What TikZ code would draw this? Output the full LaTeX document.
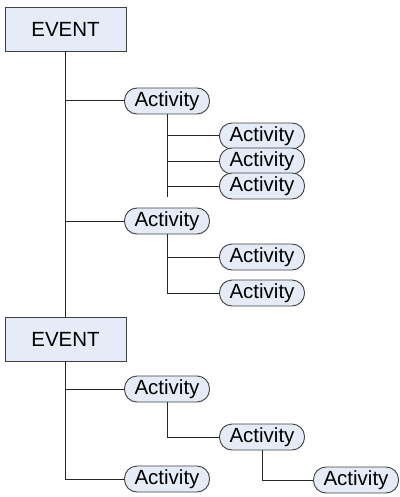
\documentclass[tikz,border=0pt]{standalone}
\usepackage{fontspec}
\setmainfont{Liberation Sans}
\definecolor{boxfill}{HTML}{E6ECF7}
\definecolor{boxdraw}{HTML}{404040}
\begin{document}
\begin{tikzpicture}[x=1pt,y=-1pt,
  eventbox/.style={draw=boxdraw,fill=boxfill,line width=0.9pt,minimum width=121pt,minimum height=44pt,inner sep=0pt,font=\fontsize{20.5}{23}\selectfont},
  actbox/.style={draw=boxdraw,fill=boxfill,line width=0.9pt,rounded corners=12.5pt,minimum width=85pt,minimum height=26pt,inner sep=0pt,font=\fontsize{20.5}{23}\selectfont},
  conn/.style={draw=black!85,line width=1pt}]
\useasboundingbox (0,0) rectangle (399,497);
\node[eventbox] (ev1) at (65.5,29) {EVENT};
\node[eventbox] (ev2) at (65.5,339) {EVENT};
\node[actbox] (a1) at (167,101) {Activity};
\node[actbox] (a11) at (262,136) {Activity};
\node[actbox] (a12) at (262,161) {Activity};
\node[actbox] (a13) at (262,186) {Activity};
\node[actbox] (a2) at (167,221) {Activity};
\node[actbox] (a21) at (262,257) {Activity};
\node[actbox] (a22) at (262,293) {Activity};
\node[actbox] (a3) at (167,389) {Activity};
\node[actbox] (a31) at (262,437) {Activity};
\node[actbox] (a311) at (356,480) {Activity};
\node[actbox] (a4) at (167,479) {Activity};
\coordinate (e1) at (167,197);
% spine 1
\draw[conn] (ev1.south) -- (ev2.north);
\draw[conn] (ev1.south |- a1) -- (a1.west);
\draw[conn] (ev1.south |- a2) -- (a2.west);
% a1 children
\draw[conn] (a1.south) -- (e1);
\draw[conn] (a1.south |- a11) -- (a11.west);
\draw[conn] (a1.south |- a12) -- (a12.west);
\draw[conn] (a1.south |- a13) -- (a13.west);
% a2 children
\draw[conn] (a2.south) -- (a2.south |- a22) -- (a22.west);
\draw[conn] (a2.south |- a21) -- (a21.west);
% spine 2
\draw[conn] (ev2.south) -- (ev2.south |- a4) -- (a4.west);
\draw[conn] (ev2.south |- a3) -- (a3.west);
\draw[conn] (a3.south) -- (a3.south |- a31) -- (a31.west);
\draw[conn] (a31.south) -- (a31.south |- a311) -- (a311.west);
\end{tikzpicture}
\end{document}
